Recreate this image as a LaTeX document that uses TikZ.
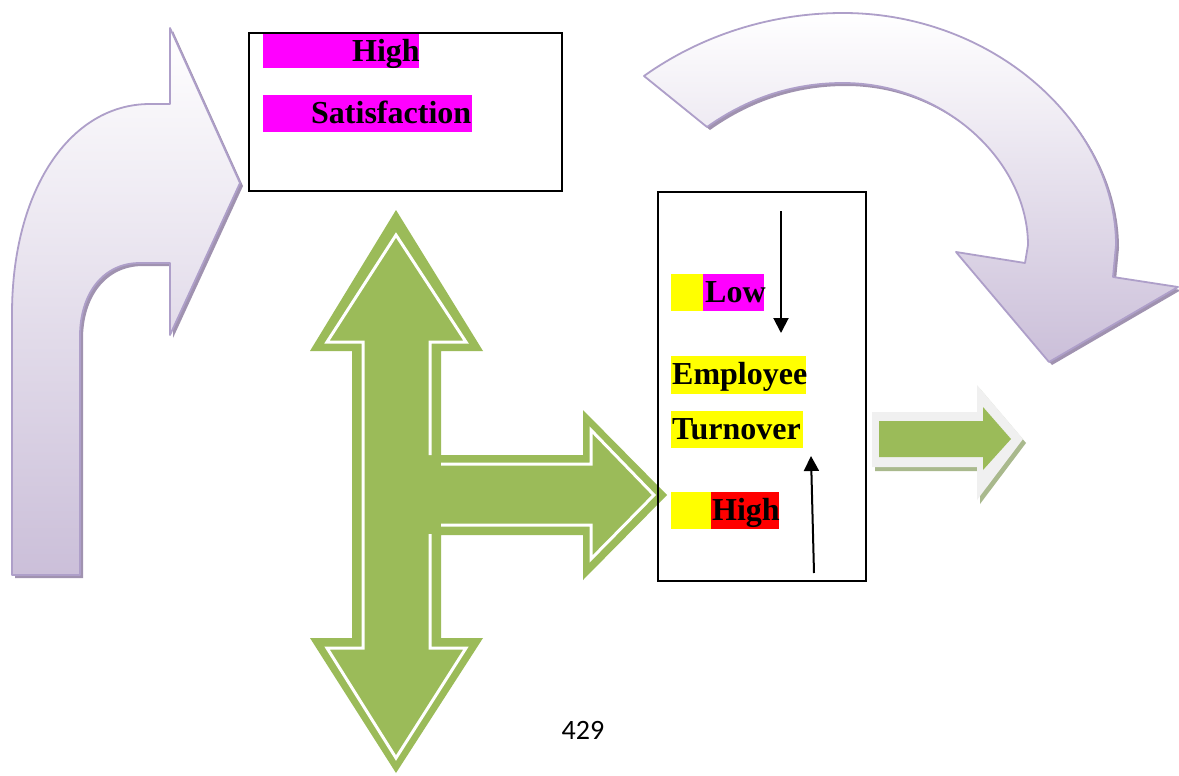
\documentclass[tikz,border=0pt]{standalone}
\usepackage{fontspec}
\setmainfont{Liberation Serif}
\newfontfamily\pagenumfont{Carlito}
\usetikzlibrary{arrows.meta}

\definecolor{lavfill}{HTML}{CBBFD9}
\definecolor{lavline}{HTML}{AE9FC9}
\definecolor{lavshadow}{HTML}{A092B0}
\definecolor{leaf}{HTML}{9BBB59}
\definecolor{leafshadow}{HTML}{A9B98D}
\definecolor{mist}{HTML}{F0F0F0}
\definecolor{hlmagenta}{HTML}{FF00FF}
\definecolor{hlyellow}{HTML}{FFFF00}
\definecolor{hlred}{HTML}{FF0000}

% outlines of the two lavender block arrows
\def\bentarrowpath{(12,575) -- (12,314) .. controls (12,190) and (70,104) .. (150,104)
  -- (170,104) -- (170,28) -- (240,183) -- (170,335) -- (170,263) -- (140,263)
  .. controls (102,263) and (80,295) .. (80,336) -- (80,575) -- cycle}
\def\curvedarrowpath{(644,76) .. controls (700,36) and (770,13) .. (843,13)
  .. controls (994,13) and (1116,124) .. (1116,245) -- (1113,277) -- (1178,287)
  -- (1049,362) -- (956,252) -- (1025,263) -- (1028,245)
  .. controls (1028,162) and (945,83) .. (843,83)
  .. controls (790,83) and (745,100) .. (707,127) -- cycle}

\tikzset{
  wordtext/.style={inner sep=0pt, anchor=base west, font=\fontsize{32}{38}\selectfont\bfseries},
  framebox/.style={draw=black, line width=2pt, anchor=north west, inner sep=0pt},
  lavarrow/.style={top color=white, bottom color=lavfill, draw=lavline, line width=1.8pt, line join=round},
  lavdrop/.style={fill=lavshadow, xshift=3pt, yshift=-3pt},
  whiteline/.style={draw=white, line width=3pt},
  pointer/.style={line width=2pt, -{Triangle[length=15pt,width=15pt]}},
}

\begin{document}
\begin{tikzpicture}[x=1pt, y=-1pt]
\useasboundingbox[fill=white] (0,0) rectangle (1179,776);

% bent arrow on the left
\path[lavdrop] \bentarrowpath;
\path[lavarrow] \bentarrowpath;

% curved arrow at the top right
\path[lavdrop] \curvedarrowpath;
\path[lavarrow] \curvedarrowpath;

% three-way green arrow
\fill[leaf] (396,210) -- (483,351) -- (441,351) -- (441,455) -- (583,455)
  -- (583,410) -- (667,495) -- (583,580) -- (583,535) -- (441,535)
  -- (441,638) -- (483,638) -- (396,773) -- (310,638) -- (352,638)
  -- (352,351) -- (310,351) -- cycle;
\draw[whiteline, line join=miter] (430,455) -- (430,342) -- (466,342) -- (396,235)
  -- (327,342) -- (363,342) -- (363,648) -- (327,648) -- (396,758)
  -- (466,648) -- (430,648) -- (430,534);
\draw[whiteline, line join=miter] (441,464) -- (591,464) -- (591,430) -- (654,495)
  -- (591,559) -- (591,525) -- (441,525);

% small green arrow on the right
\fill[leafshadow] (875,416) -- (980,416) -- (980,389) -- (1026,443) -- (980,504)
  -- (980,471) -- (875,471) -- cycle;
\fill[mist] (872,412) -- (977,412) -- (977,385) -- (1023,439) -- (977,500)
  -- (977,467) -- (872,467) -- cycle;
\fill[leaf] (879,421) -- (983,421) -- (983,407) -- (1011,439) -- (983,470)
  -- (983,457) -- (879,457) -- cycle;

% satisfaction box
\node[framebox, minimum width=313pt, minimum height=158pt] (satbox) at (248,32) {};
\fill[hlmagenta] (263,34) rectangle (419,68);
\fill[hlmagenta] (263,95) rectangle (472,132);
\node[wordtext] (sathigh) at (352,61.5) {High};
\node[wordtext] (satword) at (311,123.5) {Satisfaction};

% turnover box
\node[framebox, minimum width=208pt, minimum height=389pt] (turnbox) at (657,191) {};
\fill[hlyellow] (671,274) rectangle (703,311);
\fill[hlmagenta] (703,274) rectangle (764,311);
\fill[hlyellow] (671,356) rectangle (806,394);
\fill[hlyellow] (671,411) rectangle (803,448);
\fill[hlyellow] (671,492) rectangle (711,529);
\fill[hlred] (711,492) rectangle (779,529);
\node[wordtext] (turnlow) at (705,302.5) {Low};
\node[wordtext] (turnemp) at (672,384) {Employee};
\node[wordtext] (turnturn) at (672,439) {Turnover};
\node[wordtext] (turnhigh) at (712,520.5) {High};

\coordinate (downtail) at (781,211);
\coordinate (downhead) at (781,333);
\coordinate (uptail) at (814,573);
\coordinate (uphead) at (811,456);
\draw[pointer] (downtail) -- (downhead);
\draw[pointer] (uptail) -- (uphead);

% page number
\node[font=\pagenumfont\fontsize{28}{34}\selectfont, anchor=base, inner sep=0pt] (pageno) at (583,739) {429};
\end{tikzpicture}
\end{document}
